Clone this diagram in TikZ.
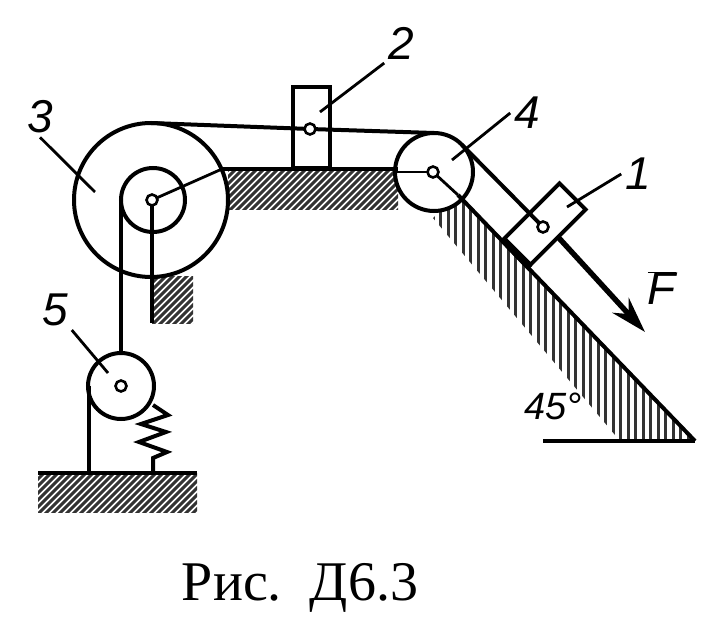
\documentclass[tikz,border=0pt]{standalone}
\usepackage{fontspec}
\setmainfont{Liberation Serif}
\setsansfont{Liberation Sans}
\usetikzlibrary{positioning, arrows.meta}

\begin{document}
\begin{tikzpicture}[x=1pt, y=-1pt, line width=4pt,
        pulley/.style={circle, draw, fill=white, inner sep=0pt, outer sep=0pt},
        axle/.style={circle, draw, fill=white, inner sep=0pt, outer sep=0pt, minimum size=11pt, line width=2.6pt},
        slider/.style={rectangle, draw, fill=white, inner sep=0pt, outer sep=0pt},
        number/.style={font=\fontsize{46}{46}\selectfont\sffamily\itshape, inner sep=2pt},
        hatch/.style={line width=3pt, black!80},
        thin link/.style={line width=2.8pt},
        leader/.style={line width=2.8pt}]
    \useasboundingbox (0,0) rectangle (712,628);

    % hatching
    \begin{scope}
        \clip (228,171) rectangle (398,210);
        \foreach \x in {186,193,...,400}
            \draw[hatch] (\x,212) -- (\x+44,168);
    \end{scope}
    \begin{scope}
        \clip (152,277) rectangle (193,323);
        \foreach \x in {110,117,...,195}
            \draw[hatch] (\x,325) -- (\x+50,275);
    \end{scope}
    \begin{scope}
        \clip (38,473) rectangle (197,512);
        \foreach \x in {-4,3,...,197}
            \draw[hatch] (\x,514) -- (\x+42,472);
    \end{scope}
    \begin{scope}
        \clip (458,195) -- (695,441) -- (620,441) -- (433,218) -- cycle;
        \foreach \x in {433,440.5,...,695}
            \draw[hatch] (\x,190) -- (\x,445);
    \end{scope}

    % parts
    \node[pulley, minimum size=154pt] (p3) at (151,200) {};
    \node[pulley, minimum size=64pt] (p3i) at (153,200) {};
    \node[pulley, minimum size=78pt] (p4) at (434,172) {};
    \node[pulley, minimum size=66pt] (p5) at (121,386) {};
    \node[slider, minimum width=37pt, minimum height=81pt] (s2) at (311.5,127.5) {};
    \node[slider, minimum width=78pt, minimum height=37pt, rotate=45] (s1) at (545,224) {};

    \node[axle] (ax3) at (152,200) {};
    \node[axle] (ax4) at (433,172) {};
    \node[axle] (ax5) at (121,386) {};
    \node[axle] (ax2) at (310,129) {};
    \node[axle] (ax1) at (543,227) {};

    \coordinate (wall3) at (222,169);
    \coordinate (wall4) at (398,169);
    \coordinate (post3) at (152,323);
    \coordinate (ramptop) at (458,195);
    \coordinate (ramptip) at (695,441);
    \coordinate (rampfoot) at (543,441);
    \coordinate (shoe1) at (503,240);
    \coordinate (shoe2) at (530,268);
    \coordinate (groundl) at (38,473);
    \coordinate (groundr) at (197,473);
    \coordinate (base5) at (89,473);
    \coordinate (base6) at (153,473);
    \coordinate (stub5) at (89,386);
    \coordinate (tipF) at (645,332);

    % surfaces
    \draw (wall3) -- (wall4);
    \draw (groundl) -- (groundr);
    \draw (ramptop) -- (ramptip);
    \draw (rampfoot) -- (ramptip);
    \draw[line width=6.5pt] (shoe1) -- (shoe2);
    \draw (ax3) -- (post3);

    % cables and links
    \draw (p3.north) -- (ax2);
    \draw (ax2) -- (p4.north);
    \draw (p4.45) -- (ax1);
    \draw[line width=4.6pt] (p3i.west) -- (p5.north);
    \draw (stub5) -- (base5);
    \draw[thin link] (ax3) -- (wall3);
    \draw[thin link] (ax4) -- (p4.west);
    \draw[thin link] (ax4) -- (ramptop);

    % spring
    \draw (153,405) -- (168,415) -- (141,424) -- (166,432) -- (139,442) -- (167,452) -- (153,458) -- (base6);

    % force
    \draw[-{Stealth[length=36pt, width=22pt]}, line width=5.4pt] (s1.south) -- (tipF);
    \node[font=\fontsize{46}{46}\selectfont\sffamily\itshape, inner sep=0pt] (f) at (662,288) {$\overline{\mbox{F}}$};

    % numbers
    \node[number] (n1) at (638,174) {1};
    \node[number] (n2) at (401,43) {2};
    \node[number] (n3) at (40,117) {3};
    \node[number] (n4) at (527,113) {4};
    \node[number] (n5) at (55,310) {5};
    \node[number, font=\fontsize{38}{38}\selectfont\sffamily\itshape] (ang) at (553,406) {45°};

    \coordinate (t1) at (567,207);
    \coordinate (t2) at (320,112);
    \coordinate (t3) at (95,192);
    \coordinate (t4) at (452,160);
    \coordinate (t5) at (108,373);
    \draw[leader] (n1.west) -- (t1);
    \draw[leader] (n2.south west) -- (t2);
    \draw[leader] (n3.south) -- (t3);
    \draw[leader] (n4.west) -- (t4);
    \draw[leader] (n5.south east) -- (t5);

    \node[font=\fontsize{56}{56}\selectfont, inner sep=0pt] (cap) at (300,588) {Рис.\ \ Д6.3};
\end{tikzpicture}
\end{document}
